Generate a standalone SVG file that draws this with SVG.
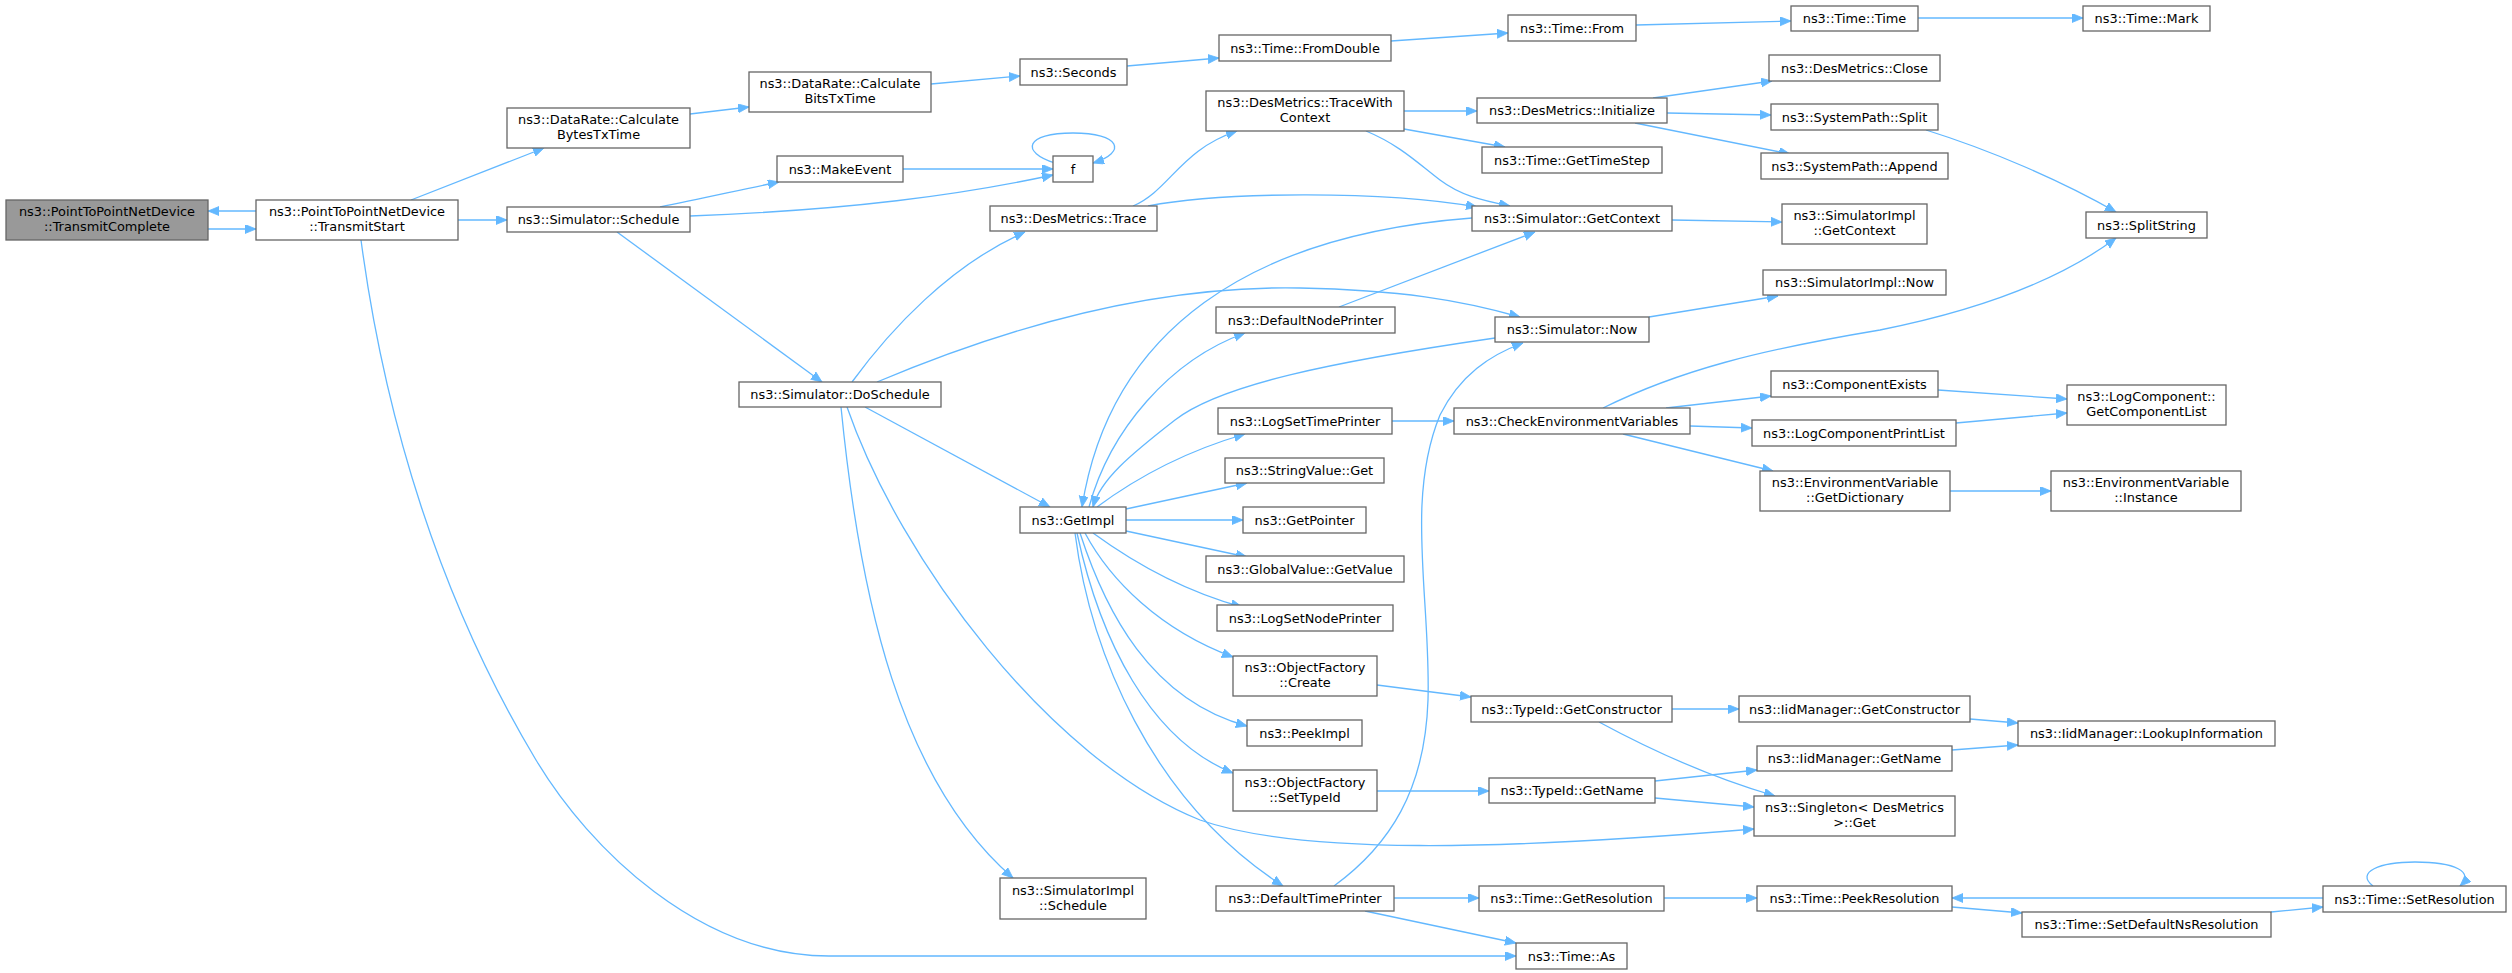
<svg xmlns="http://www.w3.org/2000/svg" width="2512" height="973" viewBox="0 0 2512 973">
<style>
.n rect{fill:#ffffff;stroke:#666666;stroke-width:1.3}
.root rect{fill:#999999}
.n text{font-family:"DejaVu Sans","Liberation Sans",sans-serif;font-size:12.9px;text-anchor:middle;fill:#000000}
.e path{fill:none;stroke:#63b8ff;stroke-width:1.3;marker-end:url(#arr)}
</style>
<defs>
<marker id="arr" markerUnits="userSpaceOnUse" markerWidth="12" markerHeight="10" refX="11" refY="4.5" orient="auto">
<path d="M0,0 L11,4.5 L0,9 z" fill="#63b8ff" stroke="#63b8ff" stroke-width="0.8"/>
</marker>
</defs>
<rect x="0" y="0" width="2512" height="973" fill="#ffffff"/>
<g id="edges" class="e">
<path d="M208,229 L256,229"/>
<path d="M256,211 L208,211"/>
<path d="M411,200 L544,148"/>
<path d="M458,220 L507,220"/>
<path d="M361,240 C385,420 440,600 536,760 C590,850 700,956 829,956 L1516,956"/>
<path d="M690,114 L749,107"/>
<path d="M931,84 L1020,76"/>
<path d="M1127,66 L1219,58"/>
<path d="M1391,41 L1508,33"/>
<path d="M1636,25 L1791,21"/>
<path d="M1918,18 L2083,18"/>
<path d="M660,207 C700,199 740,190 779,182"/>
<path d="M690,216 C850,210 960,195 1053,175"/>
<path d="M617,232 L822,382"/>
<path d="M903,169 L1053,169"/>
<path d="M1055,163 C1020,152 1025,133 1073,133 C1120,133 1128,152 1093,163"/>
<path d="M852,382 C890,330 950,265 1025,232"/>
<path d="M877,382 C1000,330 1150,285 1300,288 C1400,290 1460,300 1520,317"/>
<path d="M865,407 L1050,507"/>
<path d="M841,407 C860,600 900,780 1013,878"/>
<path d="M847,407 C900,560 1050,760 1200,820 C1300,855 1500,850 1754,829"/>
<path d="M1133,206 C1170,190 1180,150 1237,131"/>
<path d="M1148,206 C1220,192 1380,190 1477,207"/>
<path d="M1404,111 L1477,111"/>
<path d="M1404,129 L1505,147"/>
<path d="M1366,131 C1400,145 1420,165 1440,180 C1460,195 1480,200 1510,206"/>
<path d="M1653,98 L1772,81"/>
<path d="M1667,113 L1771,115"/>
<path d="M1635,123 L1790,154"/>
<path d="M1926,130 C1990,150 2060,180 2116,212"/>
<path d="M1672,220 L1782,222"/>
<path d="M1472,218 C1250,235 1110,330 1082,507"/>
<path d="M1339,307 L1535,232"/>
<path d="M1649,317 L1778,296"/>
<path d="M1495,338 C1330,362 1220,385 1175,420 C1130,455 1100,480 1093,507"/>
<path d="M1089,507 C1110,430 1170,360 1245,333"/>
<path d="M1097,507 C1140,475 1190,450 1245,434"/>
<path d="M1126,509 L1247,483"/>
<path d="M1126,520 L1243,520"/>
<path d="M1126,531 L1247,557"/>
<path d="M1093,533 C1130,560 1180,590 1242,607"/>
<path d="M1085,533 C1110,580 1160,630 1233,657"/>
<path d="M1080,533 C1105,610 1150,700 1247,726"/>
<path d="M1077,533 C1100,640 1150,740 1233,773"/>
<path d="M1075,533 C1090,650 1150,800 1283,886"/>
<path d="M1392,421 L1454,421"/>
<path d="M1603,408 C1680,370 1760,350 1880,330 C1980,310 2060,280 2116,238"/>
<path d="M1666,408 L1771,396"/>
<path d="M1690,426 L1752,428"/>
<path d="M1623,434 L1773,471"/>
<path d="M1938,390 L2067,399"/>
<path d="M1956,423 L2067,413"/>
<path d="M1950,491 L2051,491"/>
<path d="M1377,685 L1471,697"/>
<path d="M1377,791 L1489,791"/>
<path d="M1672,709 L1739,709"/>
<path d="M1599,722 C1660,755 1720,780 1775,796"/>
<path d="M1655,781 L1757,770"/>
<path d="M1655,798 L1754,807"/>
<path d="M1970,719 L2018,723"/>
<path d="M1952,750 L2018,745"/>
<path d="M1334,886 C1390,845 1425,790 1428,700 C1431,600 1405,500 1440,415 C1460,375 1490,355 1523,343"/>
<path d="M1394,898 L1479,898"/>
<path d="M1365,911 L1516,943"/>
<path d="M1664,898 L1757,898"/>
<path d="M1952,907 L2022,913"/>
<path d="M2271,912 L2323,907"/>
<path d="M2323,898 L1952,898"/>
<path d="M2373,886 C2355,872 2380,862 2415,862 C2455,862 2475,872 2460,886"/>
</g>
<g id="n1" class="n root"><rect x="6" y="200" width="202" height="40"/><text x="107" y="216.2">ns3::PointToPointNetDevice</text><text x="107" y="231.2">::TransmitComplete</text></g>
<g id="n2" class="n"><rect x="256" y="200" width="202" height="40"/><text x="357" y="216.2">ns3::PointToPointNetDevice</text><text x="357" y="231.2">::TransmitStart</text></g>
<g id="n3" class="n"><rect x="507" y="108" width="183" height="40"/><text x="598.5" y="124.2">ns3::DataRate::Calculate</text><text x="598.5" y="139.2">BytesTxTime</text></g>
<g id="n4" class="n"><rect x="507" y="207" width="183" height="25"/><text x="598.5" y="224">ns3::Simulator::Schedule</text></g>
<g id="n5" class="n"><rect x="749" y="72" width="182" height="40"/><text x="840" y="88.2">ns3::DataRate::Calculate</text><text x="840" y="103.2">BitsTxTime</text></g>
<g id="n6" class="n"><rect x="1020" y="59" width="107" height="26"/><text x="1073.5" y="76.5">ns3::Seconds</text></g>
<g id="n7" class="n"><rect x="1219" y="35" width="172" height="26"/><text x="1305" y="52.5">ns3::Time::FromDouble</text></g>
<g id="n8" class="n"><rect x="1508" y="15" width="128" height="26"/><text x="1572" y="32.5">ns3::Time::From</text></g>
<g id="n9" class="n"><rect x="1791" y="6" width="127" height="25"/><text x="1854.5" y="23">ns3::Time::Time</text></g>
<g id="n10" class="n"><rect x="2083" y="6" width="127" height="25"/><text x="2146.5" y="23">ns3::Time::Mark</text></g>
<g id="n11" class="n"><rect x="777" y="156" width="126" height="26"/><text x="840" y="173.5">ns3::MakeEvent</text></g>
<g id="n12" class="n"><rect x="1053" y="156" width="40" height="26"/><text x="1073" y="173.5">f</text></g>
<g id="n13" class="n"><rect x="739" y="382" width="202" height="25"/><text x="840" y="399">ns3::Simulator::DoSchedule</text></g>
<g id="n14" class="n"><rect x="990" y="206" width="167" height="25"/><text x="1073.5" y="223">ns3::DesMetrics::Trace</text></g>
<g id="n15" class="n"><rect x="1206" y="91" width="198" height="40"/><text x="1305" y="107.2">ns3::DesMetrics::TraceWith</text><text x="1305" y="122.2">Context</text></g>
<g id="n16" class="n"><rect x="1477" y="98" width="190" height="25"/><text x="1572" y="115">ns3::DesMetrics::Initialize</text></g>
<g id="n17" class="n"><rect x="1482" y="147" width="180" height="26"/><text x="1572" y="164.5">ns3::Time::GetTimeStep</text></g>
<g id="n18" class="n"><rect x="1472" y="206" width="200" height="25"/><text x="1572" y="223">ns3::Simulator::GetContext</text></g>
<g id="n19" class="n"><rect x="1769" y="55" width="171" height="26"/><text x="1854.5" y="72.5">ns3::DesMetrics::Close</text></g>
<g id="n20" class="n"><rect x="1771" y="104" width="167" height="26"/><text x="1854.5" y="121.5">ns3::SystemPath::Split</text></g>
<g id="n21" class="n"><rect x="1761" y="153" width="187" height="26"/><text x="1854.5" y="170.5">ns3::SystemPath::Append</text></g>
<g id="n22" class="n"><rect x="1782" y="204" width="145" height="40"/><text x="1854.5" y="220.2">ns3::SimulatorImpl</text><text x="1854.5" y="235.2">::GetContext</text></g>
<g id="n23" class="n"><rect x="2086" y="212" width="121" height="26"/><text x="2146.5" y="229.5">ns3::SplitString</text></g>
<g id="n24" class="n"><rect x="1763" y="270" width="183" height="25"/><text x="1854.5" y="287">ns3::SimulatorImpl::Now</text></g>
<g id="n25" class="n"><rect x="1495" y="317" width="154" height="25"/><text x="1572" y="334">ns3::Simulator::Now</text></g>
<g id="n26" class="n"><rect x="1216" y="307" width="179" height="26"/><text x="1305.5" y="324.5">ns3::DefaultNodePrinter</text></g>
<g id="n27" class="n"><rect x="1218" y="408" width="174" height="26"/><text x="1305" y="425.5">ns3::LogSetTimePrinter</text></g>
<g id="n28" class="n"><rect x="1454" y="408" width="236" height="26"/><text x="1572" y="425.5">ns3::CheckEnvironmentVariables</text></g>
<g id="n29" class="n"><rect x="1771" y="371" width="167" height="26"/><text x="1854.5" y="388.5">ns3::ComponentExists</text></g>
<g id="n30" class="n"><rect x="1752" y="420" width="204" height="26"/><text x="1854" y="437.5">ns3::LogComponentPrintList</text></g>
<g id="n31" class="n"><rect x="2067" y="385" width="159" height="40"/><text x="2146.5" y="401.2">ns3::LogComponent::</text><text x="2146.5" y="416.2">GetComponentList</text></g>
<g id="n32" class="n"><rect x="1760" y="471" width="190" height="40"/><text x="1855" y="487.2">ns3::EnvironmentVariable</text><text x="1855" y="502.2">::GetDictionary</text></g>
<g id="n33" class="n"><rect x="2051" y="471" width="190" height="40"/><text x="2146" y="487.2">ns3::EnvironmentVariable</text><text x="2146" y="502.2">::Instance</text></g>
<g id="n34" class="n"><rect x="1225" y="458" width="159" height="25"/><text x="1304.5" y="475">ns3::StringValue::Get</text></g>
<g id="n35" class="n"><rect x="1020" y="507" width="106" height="26"/><text x="1073" y="524.5">ns3::GetImpl</text></g>
<g id="n36" class="n"><rect x="1243" y="507" width="123" height="26"/><text x="1304.5" y="524.5">ns3::GetPointer</text></g>
<g id="n37" class="n"><rect x="1206" y="556" width="198" height="26"/><text x="1305" y="573.5">ns3::GlobalValue::GetValue</text></g>
<g id="n38" class="n"><rect x="1217" y="605" width="176" height="26"/><text x="1305" y="622.5">ns3::LogSetNodePrinter</text></g>
<g id="n39" class="n"><rect x="1233" y="656" width="144" height="40"/><text x="1305" y="672.2">ns3::ObjectFactory</text><text x="1305" y="687.2">::Create</text></g>
<g id="n40" class="n"><rect x="1247" y="720" width="115" height="26"/><text x="1304.5" y="737.5">ns3::PeekImpl</text></g>
<g id="n41" class="n"><rect x="1233" y="770" width="144" height="41"/><text x="1305" y="786.7">ns3::ObjectFactory</text><text x="1305" y="801.7">::SetTypeId</text></g>
<g id="n42" class="n"><rect x="1000" y="878" width="146" height="41"/><text x="1073" y="894.7">ns3::SimulatorImpl</text><text x="1073" y="909.7">::Schedule</text></g>
<g id="n43" class="n"><rect x="1216" y="886" width="178" height="25"/><text x="1305" y="903">ns3::DefaultTimePrinter</text></g>
<g id="n44" class="n"><rect x="1471" y="696" width="201" height="26"/><text x="1571.5" y="713.5">ns3::TypeId::GetConstructor</text></g>
<g id="n45" class="n"><rect x="1739" y="696" width="231" height="26"/><text x="1854.5" y="713.5">ns3::IidManager::GetConstructor</text></g>
<g id="n46" class="n"><rect x="2018" y="721" width="257" height="25"/><text x="2146.5" y="738">ns3::IidManager::LookupInformation</text></g>
<g id="n47" class="n"><rect x="1757" y="746" width="195" height="25"/><text x="1854.5" y="763">ns3::IidManager::GetName</text></g>
<g id="n48" class="n"><rect x="1489" y="778" width="166" height="25"/><text x="1572" y="795">ns3::TypeId::GetName</text></g>
<g id="n49" class="n"><rect x="1754" y="796" width="201" height="40"/><text x="1854.5" y="812.2">ns3::Singleton&lt; DesMetrics</text><text x="1854.5" y="827.2">&gt;::Get</text></g>
<g id="n50" class="n"><rect x="1479" y="886" width="185" height="25"/><text x="1571.5" y="903">ns3::Time::GetResolution</text></g>
<g id="n51" class="n"><rect x="1757" y="886" width="195" height="25"/><text x="1854.5" y="903">ns3::Time::PeekResolution</text></g>
<g id="n52" class="n"><rect x="2323" y="886" width="183" height="26"/><text x="2414.5" y="903.5">ns3::Time::SetResolution</text></g>
<g id="n53" class="n"><rect x="2022" y="912" width="249" height="25"/><text x="2146.5" y="929">ns3::Time::SetDefaultNsResolution</text></g>
<g id="n54" class="n"><rect x="1516" y="943" width="111" height="26"/><text x="1571.5" y="960.5">ns3::Time::As</text></g>
</svg>
